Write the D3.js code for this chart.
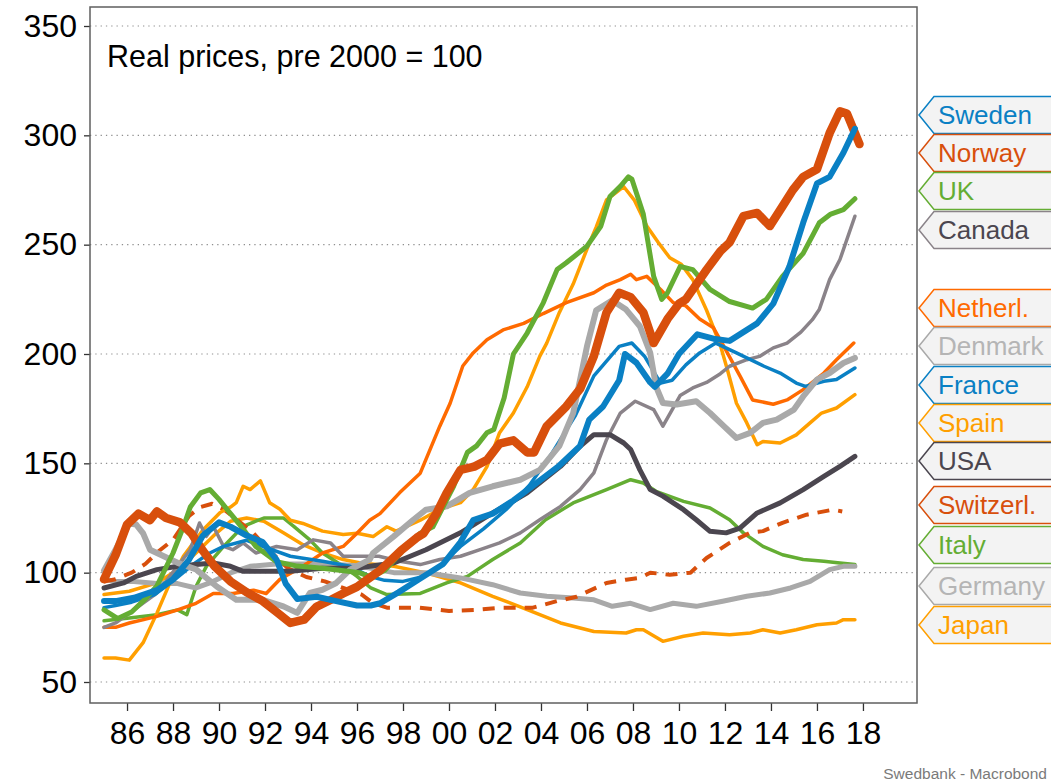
<!DOCTYPE html>
<html>
<head>
<meta charset="utf-8">
<script src="https://cdn.jsdelivr.net/npm/d3@7/dist/d3.min.js"></script>
<style>
  body { margin: 0; background: #fff; }
  svg text { font-family: "Liberation Sans", Arial, sans-serif; }
</style>
</head>
<body>
<div id="node"></div>
<script>
// [year, index value]  (real prices, pre 2000 = 100)
const sweden = [[1985.0,87],[1985.5,87],[1986.3,88.5],[1987.3,92],[1988.0,97],[1988.7,106],[1989.3,117],[1990.0,123],[1990.5,121],[1991.2,117],[1991.9,114],[1992.5,106],[1992.9,95],[1993.4,88],[1994.25,89],[1995.1,87],[1996.0,85],[1996.6,85],[1997.0,86],[1997.8,91],[1998.7,97],[1999.75,104],[2000.5,114],[2001.05,124],[2001.9,127],[2002.8,133],[2003.8,141],[2004.8,149],[2005.7,158],[2006.1,170],[2006.7,176],[2007.4,188],[2007.65,200],[2008.15,196],[2008.75,187],[2008.95,185],[2009.5,191],[2010.0,200],[2010.8,209],[2011.5,207],[2012.2,206],[2012.8,210],[2013.4,214],[2014.1,223],[2014.8,240],[2015.4,260],[2016.0,278],[2016.55,281],[2017.15,292],[2017.65,303]];
const norway = [[1985.0,97],[1985.5,108],[1986.0,122],[1986.5,127],[1987.0,124],[1987.3,128],[1987.7,125],[1988.3,123],[1988.8,118],[1989.3,110],[1989.8,103],[1990.5,96],[1991.2,91],[1991.9,87],[1992.5,82],[1993.1,77],[1993.7,78.5],[1994.25,84.5],[1994.85,87.5],[1995.4,90.5],[1996.0,93.5],[1996.6,98],[1997.0,101],[1997.9,110],[1998.6,116],[1998.9,118],[1999.45,127],[1999.9,136.5],[2000.5,147],[2001.1,148.5],[2001.65,151.5],[2002.2,159],[2002.8,160.5],[2003.4,155],[2003.7,155],[2004.25,167],[2005.1,176],[2005.7,184],[2006.3,199],[2006.85,219],[2007.4,228],[2007.9,226],[2008.45,219],[2008.9,205],[2009.5,216],[2010.0,223],[2010.3,225],[2011.2,238.5],[2011.8,247],[2012.2,251],[2012.8,263],[2013.4,264.5],[2013.95,258.5],[2014.5,267.5],[2014.95,275],[2015.4,281],[2016.0,284.5],[2016.55,301],[2017.0,311],[2017.3,310],[2017.85,296]];
const uk = [[1985.0,83],[1985.6,79],[1986.2,82],[1986.8,88],[1987.3,94],[1988.0,109],[1988.45,121],[1988.75,130],[1989.2,136.5],[1989.6,138],[1990.0,133.5],[1990.5,127],[1991.05,120],[1991.6,112],[1992.5,105],[1993.4,103],[1994.5,102],[1995.7,100.5],[1996.1,100],[1996.6,98],[1997.2,101],[1997.9,109],[1998.75,118],[1999.3,121],[2000.2,139.5],[2000.8,155],[2001.2,158],[2001.65,164],[2001.95,165.5],[2002.4,180],[2002.8,200],[2003.4,209.6],[2004.1,223.4],[2004.7,238.6],[2005.1,241.7],[2006.0,249.3],[2006.6,258.4],[2007.0,272],[2007.45,276.7],[2007.8,281],[2007.95,280],[2008.45,264],[2008.9,235.5],[2009.25,225],[2009.5,228],[2010.05,240],[2010.6,238.6],[2011.35,229.5],[2012.2,224],[2013.2,221],[2013.8,225],[2014.5,235.5],[2015.4,246],[2016.1,260],[2016.6,264],[2017.15,266],[2017.65,271]];
const canada = [[1985.0,75],[1985.5,77],[1986.1,81.5],[1987.3,90.7],[1988.2,103],[1988.75,110.5],[1989.15,122.7],[1989.45,116.6],[1989.75,121.2],[1990.2,112],[1990.6,110.5],[1991.05,113.6],[1991.6,109],[1992.5,112],[1993.4,110.5],[1994.1,115],[1994.85,113.6],[1995.4,107.5],[1996.0,107.5],[1996.95,107.5],[1997.85,105.2],[1998.75,103.7],[1999.6,106],[2000.5,107.5],[2001.35,110.5],[2002.2,113.6],[2003.1,118.2],[2003.95,124.2],[2004.85,130.3],[2005.7,138],[2006.3,145.6],[2006.85,160.8],[2007.45,173],[2008.1,178.4],[2008.9,174.6],[2009.3,167],[2010.05,181],[2010.6,184.5],[2011.2,187],[2011.8,191],[2012.2,194.4],[2012.95,197.4],[2013.5,198.9],[2014.1,202.8],[2014.7,205],[2015.3,210],[2015.8,215.7],[2016.1,220.3],[2016.55,234],[2017.0,243.2],[2017.65,263]];
const netherl = [[1985.0,75],[1985.5,75],[1986.1,77],[1987.3,80],[1988.2,83],[1989.0,86],[1989.75,90.5],[1990.6,90.5],[1991.5,92],[1992.05,90.5],[1992.65,97],[1993.65,103],[1994.5,109],[1995.4,112],[1996.0,118],[1996.55,124],[1997.0,127],[1997.85,136.5],[1998.75,145.5],[1999.6,167],[2000.05,177.5],[2000.6,194.5],[2001.05,200.5],[2001.65,206.5],[2002.35,211],[2003.25,214],[2004.1,218.5],[2005.1,223.5],[2006.3,228],[2006.85,231.5],[2007.45,234],[2007.9,236.5],[2008.15,234],[2008.6,235.5],[2009.2,229.5],[2009.75,223.5],[2010.3,222],[2010.9,216],[2011.5,212],[2011.95,203.5],[2012.65,190],[2013.2,179],[2014.1,177],[2014.7,179],[2015.4,183.7],[2016.3,191.3],[2016.85,197.4],[2017.6,205]];
const denmark = [[1985.0,101],[1985.5,110.5],[1986.1,122.5],[1986.4,122],[1986.7,118],[1987.0,110.5],[1987.3,109],[1988.2,104.5],[1989.0,101.5],[1989.9,93.7],[1990.75,87.6],[1991.9,87.6],[1992.8,84.6],[1993.4,81.6],[1993.95,90.7],[1994.5,92.2],[1995.1,95.3],[1995.7,101.4],[1996.55,106],[1996.7,109],[1997.6,116.6],[1998.45,124.2],[1999.0,128.8],[1999.9,130.3],[2000.9,136.5],[2001.9,139.5],[2003.1,142.5],[2003.95,147],[2004.8,158],[2005.4,173],[2006.0,203.5],[2006.4,220],[2007.1,224.5],[2007.7,220.3],[2008.3,212.7],[2008.75,200.5],[2009.0,185.2],[2009.3,177.6],[2009.9,176.9],[2010.75,178.4],[2011.35,173],[2011.95,167],[2012.5,161.6],[2013.1,163.9],[2013.65,168.5],[2014.25,170],[2015.0,174.6],[2015.4,180.6],[2016.0,188.3],[2016.55,191.3],[2017.15,195.9],[2017.65,198.2]];
const france = [[1985.0,84],[1985.5,85],[1986.2,86.5],[1987.2,90],[1988.1,97],[1988.9,104],[1989.6,109],[1990.2,112],[1991.2,114.8],[1991.9,112],[1993.1,107.5],[1994.5,105.2],[1995.7,102.9],[1996.55,98.3],[1997.2,96.5],[1998.0,96],[1998.8,98],[1999.6,103],[2000.5,112],[2001.5,120],[2002.5,129],[2003.5,140],[2004.5,155],[2005.5,172],[2006.3,190],[2007.4,203.5],[2007.95,205],[2008.5,199],[2009.2,186.7],[2009.7,188],[2010.3,195],[2010.9,200.5],[2011.6,205],[2012.5,200.5],[2013.7,194.4],[2014.4,191.3],[2015.1,186.7],[2015.5,185.2],[2016.3,187.5],[2016.85,188.3],[2017.65,193.6]];
const spain = [[1985.0,61],[1985.5,61],[1986.1,60],[1986.7,68],[1987.3,81.5],[1987.85,95],[1988.45,107.5],[1989.3,119.5],[1990.05,127.5],[1990.5,130],[1990.75,132],[1991.05,139.5],[1991.35,138],[1991.8,142],[1992.2,132],[1992.65,129],[1993.1,124],[1993.65,122.5],[1994.5,119],[1995.4,117.5],[1996.0,118],[1996.7,116.5],[1997.3,121],[1997.7,119],[1998.75,124],[1999.6,129],[2000.5,132],[2001.05,138],[2001.65,148.5],[2002.2,164],[2002.8,173],[2003.4,185],[2003.95,199],[2004.25,205],[2004.8,219],[2005.4,232],[2006.0,248],[2006.4,258],[2006.85,270.5],[2007.6,276.5],[2008.05,270.5],[2008.6,258.5],[2009.1,251],[2009.6,244],[2010.1,241],[2010.6,234],[2011.2,220],[2011.8,204],[2012.1,193],[2012.5,177.5],[2012.95,168.5],[2013.4,158.5],[2013.65,160],[2014.4,159.3],[2015.1,163],[2015.7,168.5],[2016.2,173],[2016.85,175.3],[2017.65,181.4]];
const usa = [[1985.0,93],[1985.85,95.3],[1986.4,98.3],[1987.3,101.4],[1988.2,102.9],[1989.0,103.7],[1989.75,104.4],[1990.5,102.9],[1991.05,100.6],[1991.95,100.6],[1993.1,100.6],[1994.5,102],[1996.0,102],[1996.55,102.9],[1997.6,104.4],[1999.0,110.5],[2000.5,118.2],[2001.9,127.3],[2003.4,136.5],[2004.85,148.6],[2005.7,157.8],[2006.3,163.1],[2007.0,163.1],[2007.6,159.3],[2007.9,156.3],[2008.3,147],[2008.75,138],[2009.3,135],[2010.2,128.8],[2010.75,124.2],[2011.35,118.9],[2012.05,118.2],[2012.65,120.4],[2013.4,127.3],[2014.4,131.9],[2015.4,138],[2016.3,144],[2017.0,148.6],[2017.65,153.2]];
const switzerl = [[1985.0,96],[1985.5,97],[1986.2,100],[1986.8,104],[1987.4,110],[1988.0,115],[1988.7,126],[1989.2,130],[1989.7,131.5],[1990.2,129],[1990.8,124],[1991.5,118],[1992.2,110],[1993.0,102],[1993.8,98],[1994.6,96],[1995.4,93],[1996.2,90],[1996.7,86],[1997.3,84],[1998.7,84],[2000.0,82.5],[2001.2,83],[2002.35,84],[2003.65,84],[2004.7,87],[2005.55,89],[2006.85,95.3],[2007.7,96.8],[2008.3,97.6],[2008.75,100],[2009.6,99],[2010.5,100],[2011.2,106.7],[2012.2,113.6],[2013.1,118.3],[2013.65,119],[2014.5,122.8],[2015.55,126.5],[2016.7,128.8],[2017.1,128]];
const italy = [[1985.0,78],[1986.1,79.3],[1987.3,80.8],[1988.2,83],[1988.6,80.8],[1989.0,93.7],[1989.45,102.9],[1990.2,112],[1991.05,121.2],[1991.95,125],[1992.8,125],[1993.25,121.2],[1993.95,115],[1994.5,109],[1995.4,102.9],[1996.0,98.3],[1996.6,93],[1997.3,90],[1998.75,90.5],[1999.9,95.3],[2000.8,98.3],[2001.9,106],[2003.1,113.6],[2004.2,124.2],[2005.4,131.9],[2006.85,138],[2007.9,142.5],[2008.45,141],[2009.0,137.2],[2010.2,132.6],[2011.35,129.6],[2012.2,124.2],[2012.8,118.2],[2013.65,112],[2014.5,108.2],[2015.4,106],[2016.3,105.2],[2017.0,104.4],[2017.65,103.7]];
const germany = [[1985.0,97],[1985.5,96],[1986.3,96],[1987.3,95],[1988.2,95],[1989.0,93],[1989.6,95.3],[1990.5,99.9],[1991.35,102.9],[1992.5,104],[1993.5,104],[1994.5,104],[1995.5,103.5],[1996.1,103],[1997.6,100],[1999.0,100],[2000.5,97.6],[2001.9,94.5],[2003.1,90.7],[2004.25,89.2],[2005.4,88.4],[2006.3,87.6],[2007.1,84.6],[2007.9,86],[2008.75,83.1],[2009.75,86],[2010.75,84.6],[2011.9,86.9],[2012.95,89.2],[2013.95,90.7],[2014.85,93],[2015.7,96],[2016.55,101.4],[2017.15,102.9],[2017.65,102.9]];
const japan = [[1985.0,90],[1986.1,91.5],[1987.3,95.3],[1988.2,101.4],[1989.0,109],[1989.9,118.2],[1990.5,123.5],[1991.2,125],[1991.95,123.5],[1992.8,118.2],[1993.65,112.8],[1994.5,109],[1995.4,106],[1996.1,104.5],[1997.6,102.9],[1999.0,99.9],[2000.5,95.3],[2001.9,89.2],[2003.4,83.1],[2004.85,77],[2006.3,73.1],[2007.7,72.4],[2008.15,73.9],[2008.45,73.9],[2009.3,68.6],[2010.2,70.9],[2011.05,72.4],[2012.2,71.6],[2013.1,72.4],[2013.65,73.9],[2014.4,72.4],[2015.1,73.9],[2016.0,76.2],[2016.85,77],[2017.15,78.5],[2017.65,78.5]];

const xTicks = d3.range(1986, 2019, 2);
const yTicks = [50, 100, 150, 200, 250, 300, 350];

const BLUE = "#0a80c4", RED = "#d84f0c", GREEN = "#64ad33", ORANGE = "#ff6a00",
      YELLOW = "#ff9f00", LGRAY = "#a9a9a9", MGRAY = "#8a8389", DGRAY = "#4b464f";

// legend order (top to bottom)
const series = [
  { name: "Sweden",    data: sweden,   color: BLUE,   text: BLUE,   width: 6 },
  { name: "Norway",    data: norway,   color: RED,    text: RED,    width: 8.5 },
  { name: "UK",        data: uk,       color: GREEN,  text: GREEN,  width: 5 },
  { name: "Canada",    data: canada,   color: MGRAY,  text: DGRAY,  width: 3.5 },
  { name: "Netherl.",  data: netherl,  color: ORANGE, text: ORANGE, width: 3.5 },
  { name: "Denmark",   data: denmark,  color: LGRAY,  text: "#b5b5b5", width: 6 },
  { name: "France",    data: france,   color: BLUE,   text: BLUE,   width: 3.5 },
  { name: "Spain",     data: spain,    color: YELLOW, text: YELLOW, width: 3.5 },
  { name: "USA",       data: usa,      color: DGRAY,  text: DGRAY,  width: 5 },
  { name: "Switzerl.", data: switzerl, color: RED,    text: RED,    width: 4, dash: "12,9" },
  { name: "Italy",     data: italy,    color: GREEN,  text: GREEN,  width: 3.5 },
  { name: "Germany",   data: germany,  color: LGRAY,  text: "#b5b5b5", width: 5 },
  { name: "Japan",     data: japan,    color: YELLOW, text: YELLOW, width: 3.5 }
];
// drawing order, last on top
const drawOrder = ["Japan", "Italy", "Germany", "Switzerl.", "Spain", "Netherl.", "Canada",
                   "France", "USA", "Denmark", "UK", "Norway", "Sweden"];

// label tag centres (px), spread so they do not overlap
const labelCentres = [115, 153, 191, 230, 308, 346, 385, 423, 461, 505, 545, 586, 625];

const W = 1051, H = 784;
const margin = { top: 7, left: 90, right: 134, bottom: 81 };
const width = W - margin.left - margin.right;
const height = H - margin.top - margin.bottom;

const svg = d3.select("#node").append("svg")
  .attr("width", W).attr("height", H);

const g = svg.append("g")
  .attr("transform", "translate(" + margin.left + "," + margin.top + ")");

const x = d3.scaleLinear().domain([1984.39, 2020.35]).range([0, width]);
const y = d3.scaleLinear().domain([50, 350]).range([675, 19]);

// gridlines
g.append("g").selectAll("line")
  .data(yTicks).enter().append("line")
  .attr("x1", 0).attr("x2", width)
  .attr("y1", d => y(d)).attr("y2", d => y(d))
  .attr("stroke", "#8f8f8f").attr("stroke-width", 1.2)
  .attr("stroke-dasharray", "1.3,4");

// Y axis
const yAxis = g.append("g")
  .call(d3.axisLeft(y).tickValues(yTicks).tickSize(6).tickPadding(7));
yAxis.select(".domain").remove();
yAxis.selectAll("line").attr("stroke", "#333").attr("stroke-width", 1.3);
yAxis.selectAll("text").attr("font-size", 32).attr("fill", "#000")
  .style("font-family", "'Liberation Sans', Arial, sans-serif");

// X axis
const xAxis = g.append("g")
  .attr("transform", "translate(0," + height + ")")
  .call(d3.axisBottom(x).tickValues(xTicks).tickSize(8).tickPadding(10)
    .tickFormat(d => String(d % 100).padStart(2, "0")));
xAxis.select(".domain").remove();
xAxis.selectAll("line").attr("stroke", "#333").attr("stroke-width", 1.3);
xAxis.selectAll("text").attr("font-size", 32).attr("fill", "#000")
  .style("font-family", "'Liberation Sans', Arial, sans-serif");

// lines
const line = d3.line()
  .x(d => x(d[0]))
  .y(d => y(d[1]));

g.append("clipPath").attr("id", "plotClip")
  .append("rect").attr("width", width).attr("height", height);

const lines = g.append("g").attr("clip-path", "url(#plotClip)");
drawOrder.forEach(name => {
  const s = series.find(d => d.name === name);
  lines.append("path")
    .datum(s.data)
    .attr("d", line)
    .attr("fill", "none")
    .attr("stroke", s.color)
    .attr("stroke-width", s.width)
    .attr("stroke-linejoin", "round")
    .attr("stroke-linecap", s.dash ? "butt" : "round")
    .attr("stroke-dasharray", s.dash || null);
});

// frame
g.append("rect")
  .attr("width", width).attr("height", height)
  .attr("fill", "none")
  .attr("stroke", "#5f5f5f").attr("stroke-width", 1.5);

// title
g.append("text")
  .attr("x", 17).attr("y", 60)
  .attr("font-size", 30.5)
  .text("Real prices, pre 2000 = 100");

// label tags on the right
const tagX = 934, tipX = 919, half = 18.5;
const tags = svg.append("g");
series.forEach((s, i) => {
  const c = labelCentres[i];
  const t = c - half, b = c + half;
  tags.append("path")
    .attr("d", "M" + tipX + "," + c + "L" + tagX + "," + t + "L" + (W + 5) + "," + t +
               "L" + (W + 5) + "," + b + "L" + tagX + "," + b + "Z")
    .attr("fill", "#f3f3f3")
    .attr("stroke", s.color)
    .attr("stroke-width", 1.5);
  tags.append("text")
    .attr("x", 938).attr("y", c + 9)
    .attr("font-size", 26)
    .attr("fill", s.text)
    .text(s.name);
});

// source
svg.append("text")
  .attr("x", 1047).attr("y", 779)
  .attr("text-anchor", "end")
  .attr("font-size", 15.5)
  .attr("fill", "#7a7a7a")
  .text("Swedbank - Macrobond");
</script>
</body>
</html>
